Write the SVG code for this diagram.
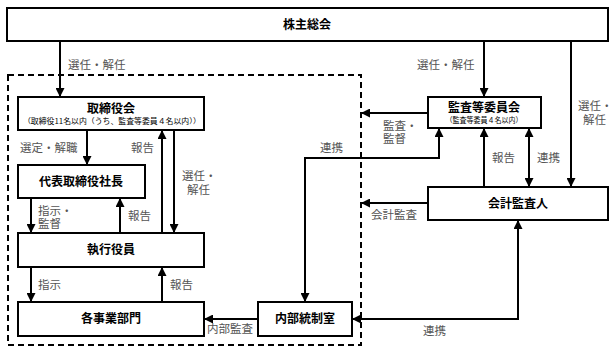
<svg xmlns="http://www.w3.org/2000/svg" width="615" height="353" viewBox="0 0 615 353">
<defs>
<marker id="ah" viewBox="0 0 10 10" refX="10" refY="5" markerWidth="9" markerHeight="9" markerUnits="userSpaceOnUse" orient="auto-start-reverse">
<path d="M0,0 L10,5 L0,10 z" fill="#000"/>
</marker>
<style>
.box{fill:#fff;stroke:#000;stroke-width:2}
.t{font-family:"Noto Sans CJK JP","Noto Sans",sans-serif;font-weight:bold;font-size:12px;fill:#000;text-anchor:middle}
.s{font-family:"Noto Sans CJK JP","Noto Sans",sans-serif;font-size:7.5px;fill:#000;text-anchor:middle}
.l{font-family:"Noto Sans CJK JP","Noto Sans",sans-serif;font-size:11.5px;fill:#555}
.c{fill:none;stroke:#000;stroke-width:2}
.a{marker-end:url(#ah)}
.b{marker-start:url(#ah);marker-end:url(#ah)}
</style>
</defs>
<rect width="615" height="353" fill="#fff"/>
<rect x="8" y="75" width="353" height="270" fill="none" stroke="#000" stroke-width="2" stroke-dasharray="6,4"/>
<g id="connectors">
<line class="c a" x1="60" y1="41" x2="60" y2="97"/>
<line class="c a" x1="484" y1="41" x2="484" y2="97"/>
<line class="c a" x1="571" y1="41" x2="571" y2="187"/>
<line class="c a" x1="87" y1="130" x2="87" y2="165"/>
<line class="c a" x1="162" y1="233" x2="162" y2="130"/>
<line class="c a" x1="174" y1="130" x2="174" y2="233"/>
<line class="c a" x1="31" y1="198" x2="31" y2="233"/>
<line class="c a" x1="120" y1="233" x2="120" y2="198"/>
<line class="c a" x1="31" y1="267" x2="31" y2="302"/>
<line class="c a" x1="162" y1="302" x2="162" y2="267"/>
<line class="c a" x1="258" y1="319" x2="204" y2="319"/>
<line class="c a" x1="428" y1="113" x2="361" y2="113"/>
<line class="c a" x1="428" y1="203" x2="361" y2="203"/>
<polyline class="c b" points="305,302 305,158 439,158 439,128"/>
<line class="c a" x1="484" y1="187" x2="484" y2="128"/>
<line class="c b" x1="529" y1="187" x2="529" y2="128"/>
<polyline class="c b" points="518,220 518,319 352,319"/>
</g>
<g id="labels">
<text class="l" x="68" y="69">選任・解任</text>
<text class="l" x="417" y="69">選任・解任</text>
<text class="l" x="578" y="110">選任・<tspan x="583" dy="14">解任</tspan></text>
<text class="l" x="20" y="152">選定・解職</text>
<text class="l" x="131" y="152">報告</text>
<text class="l" x="182" y="180">選任・<tspan x="187" dy="14">解任</tspan></text>
<text class="l" x="38" y="215">指示・<tspan x="38" dy="13">監督</tspan></text>
<text class="l" x="128" y="220">報告</text>
<text class="l" x="38" y="289">指示</text>
<text class="l" x="170" y="289">報告</text>
<text class="l" x="207" y="333">内部監査</text>
<text class="l" x="383" y="130">監査・<tspan x="383" dy="13">監督</tspan></text>
<text class="l" x="320" y="152">連携</text>
<text class="l" x="492" y="162">報告</text>
<text class="l" x="537" y="162">連携</text>
<text class="l" x="371" y="219">会計監査</text>
<text class="l" x="423" y="335">連携</text>
</g>
<g id="kabunushi">
<rect class="box" x="7" y="8" width="601" height="33"/>
<text class="t" x="307" y="29">株主総会</text>
</g>
<g id="torishimariyakukai">
<rect class="box" x="18" y="97" width="186" height="33"/>
<text class="t" x="111" y="113">取締役会</text>
<text class="s" x="112" y="124" textLength="178" lengthAdjust="spacingAndGlyphs">（取締役11名以内（うち、監査等委員４名以内））</text>
</g>
<g id="daihyo">
<rect class="box" x="18" y="165" width="127" height="33"/>
<text class="t" x="81" y="186">代表取締役社長</text>
</g>
<g id="shikkoyakuin">
<rect class="box" x="18" y="233" width="186" height="34"/>
<text class="t" x="111" y="254">執行役員</text>
</g>
<g id="jigyobumon">
<rect class="box" x="18" y="302" width="186" height="34"/>
<text class="t" x="111" y="323">各事業部門</text>
</g>
<g id="naibutoseishitsu">
<rect class="box" x="258" y="302" width="94" height="34"/>
<text class="t" x="305" y="323">内部統制室</text>
</g>
<g id="kansatoiinkai">
<rect class="box" x="428" y="97" width="113" height="31"/>
<text class="t" x="484" y="112">監査等委員会</text>
<text class="s" x="484" y="123" textLength="77" lengthAdjust="spacingAndGlyphs">（監査等委員４名以内）</text>
</g>
<g id="kaikeikansanin">
<rect class="box" x="428" y="187" width="180" height="33"/>
<text class="t" x="518" y="208">会計監査人</text>
</g>
</svg>
